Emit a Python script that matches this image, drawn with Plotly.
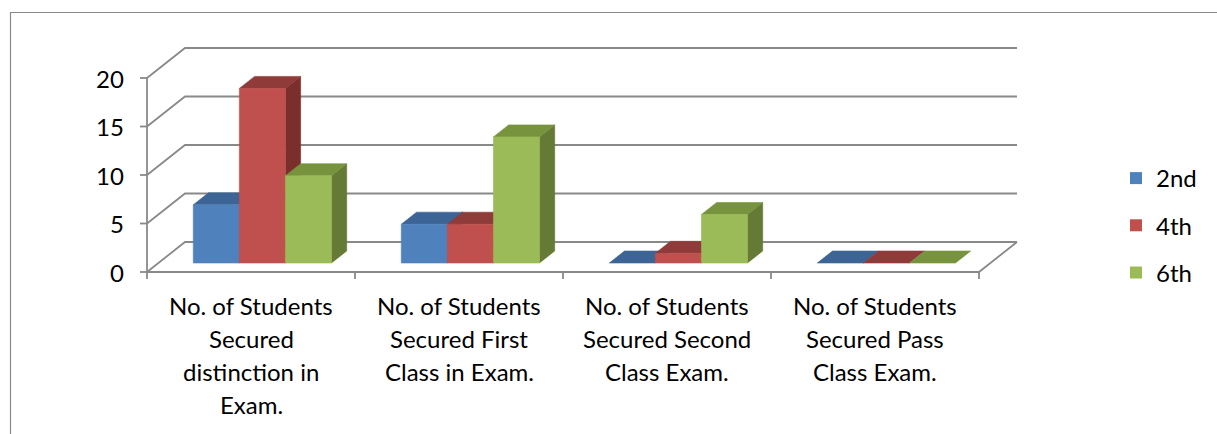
import plotly.graph_objects as go

# ---------------- data ----------------
category_lines = [
    ["No. of Students", "Secured", "distinction in", "Exam."],
    ["No. of Students", "Secured First", "Class in Exam."],
    ["No. of Students", "Secured Second", "Class Exam."],
    ["No. of Students", "Secured Pass", "Class Exam."],
]
series_names = ["2nd", "4th", "6th"]
values_2nd = [6, 4, 0, 0]
values_4th = [18, 4, 1, 0]
values_6th = [9, 13, 5, 0]
y_ticks = [0, 5, 10, 15, 20]

# ---------------- styles / geometry ----------------
front_colors = ["#4F81BD", "#C0504D", "#9BBB59"]
top_colors = ["#3C6494", "#8F3B39", "#77933E"]
side_colors = ["#30507A", "#7B2F2D", "#647A35"]
grid_color = "#898989"
FONT = "Lato"
FSIZE = 24

W, H = 1217, 434
ORIGIN_PX = (147, 272)      # front-plane (category 0, value 0)
PX_PER_CAT = 208
PX_PER_UNIT = 9.7
DEPTH_PX = (38, 30)         # oblique depth offset of the back wall
DX = DEPTH_PX[0] / PX_PER_CAT
DY = DEPTH_PX[1] / PX_PER_UNIT
Z0, Z1 = 0.3, 0.7           # bar depth span
BAR_W = 0.2215
GAP = (1 - 3 * BAR_W) / 2
N_CAT = len(category_lines)
Y_MAX = max(y_ticks)

x_range = [-ORIGIN_PX[0] / PX_PER_CAT, (W - ORIGIN_PX[0]) / PX_PER_CAT]
y_range = [-(H - ORIGIN_PX[1]) / PX_PER_UNIT, ORIGIN_PX[1] / PX_PER_UNIT]

fig = go.Figure()

# ---------------- walls, floor, axis ----------------
gx, gy = [], []
for v in y_ticks:
    # side wall diagonal + back wall gridline
    gx += [0, DX, N_CAT + DX, None]
    gy += [v, v + DY, v + DY, None]
    # tick on the value axis
    gx += [-7 / PX_PER_CAT, 0, None]
    gy += [v, v, None]
# front value axis
gx += [0, 0, None]
gy += [0, Y_MAX, None]
# floor front edge and right edge
gx += [0, N_CAT, N_CAT + DX, None]
gy += [0, 0, DY, None]
# category ticks
for i in range(N_CAT + 1):
    gx += [i, i, None]
    gy += [0, -7 / PX_PER_UNIT, None]
fig.add_trace(go.Scatter(x=gx, y=gy, mode="lines",
                         line=dict(color=grid_color, width=1.8),
                         hoverinfo="skip", showlegend=False))

# ---------------- 3-D bars ----------------
all_values = [values_2nd, values_4th, values_6th]


def poly(xs, ys, color):
    fig.add_trace(go.Scatter(x=xs + [xs[0]], y=ys + [ys[0]], mode="lines",
                             fill="toself", fillcolor=color,
                             line=dict(color=color, width=0.6),
                             hoverinfo="skip", showlegend=False))


ddx = (Z1 - Z0) * DX
ddy = (Z1 - Z0) * DY
for i in range(N_CAT):
    for k, vals in enumerate(all_values):
        v = vals[i]
        xl = i + GAP + k * BAR_W + Z0 * DX
        xr = xl + BAR_W
        yb = Z0 * DY
        yt = yb + v
        # side face
        if v > 0:
            poly([xr, xr + ddx, xr + ddx, xr], [yb, yb + ddy, yt + ddy, yt], side_colors[k])
        # top face
        poly([xl, xr, xr + ddx, xl + ddx], [yt, yt, yt + ddy, yt + ddy], top_colors[k])
        # front face
        if v > 0:
            poly([xl, xr, xr, xl], [yb, yb, yt, yt], front_colors[k])

# ---------------- legend entries ----------------
for k, name in enumerate(series_names):
    fig.add_trace(go.Scatter(x=[None], y=[None], mode="markers", name=name,
                             legendgroup=name,
                             marker=dict(symbol="square", size=12, color=front_colors[k])))

# ---------------- text ----------------
annotations = []
for v in y_ticks:
    annotations.append(dict(x=-21 / PX_PER_CAT, y=v, xref="x", yref="y", text=str(v),
                            showarrow=False, xanchor="right", yanchor="middle",
                            font=dict(family=FONT, size=FSIZE, color="#000")))
for i, lines in enumerate(category_lines):
    for j, line in enumerate(lines):
        py = 305 + j * 33
        annotations.append(dict(x=i + 0.5, y=(ORIGIN_PX[1] - py) / PX_PER_UNIT,
                                xref="x", yref="y", text=line, showarrow=False,
                                xanchor="center", yanchor="middle",
                                font=dict(family=FONT, size=FSIZE, color="#000")))

fig.update_layout(
    width=W, height=H, autosize=False,
    margin=dict(l=0, r=0, t=0, b=0, pad=0),
    paper_bgcolor="white", plot_bgcolor="white",
    xaxis=dict(range=x_range, visible=False, fixedrange=True),
    yaxis=dict(range=y_range, visible=False, fixedrange=True),
    annotations=annotations,
    showlegend=True,
    legend=dict(x=1116 / W, y=1 - 156 / H, xanchor="left", yanchor="top",
                font=dict(family=FONT, size=FSIZE, color="#000"),
                tracegroupgap=13, bgcolor="rgba(0,0,0,0)"),
    shapes=[dict(type="rect", xref="paper", yref="paper",
                 x0=10.5 / W, x1=1.05, y0=-0.05, y1=1 - 12.5 / H,
                 line=dict(color="#8A8A8A", width=1.2), fillcolor="rgba(0,0,0,0)")],
)

fig.write_html("out.html", config={"displayModeBar": False},
               post_script="document.body.style.margin='0';")
